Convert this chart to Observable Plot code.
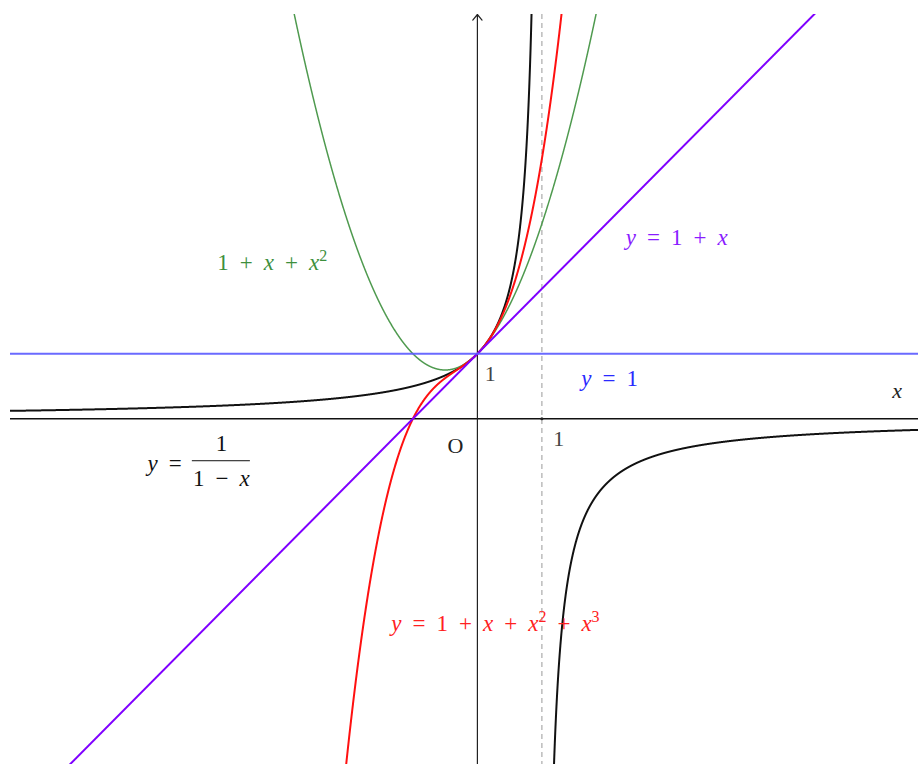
<!DOCTYPE html>
<html><head><meta charset="utf-8">
<script src="https://cdn.jsdelivr.net/npm/d3@7"></script>
<script src="https://cdn.jsdelivr.net/npm/@observablehq/plot@0.6"></script>
<style>body{margin:0;background:#fff}</style>
</head><body><div id="chart"></div>
<script>
// Visible window of the coordinate plane
const xDomain = [-7.24, 6.84];
const yDomain = [-5.32, 6.22];

// The plotted functions (the chart shows these exact curves)
const curveNames = ["1/(1-x) left", "1/(1-x) right", "1+x+x^2", "1+x+x^2+x^3", "1+x", "1"];
const curveColors = ["#111111", "#111111", "#4f9a4f", "#ff1010", "#7f00ff", "#5a5aff"];
const curveWidths = [2, 2, 1.5, 2, 2, 1.8];
const curveFns = [
  x => 1 / (1 - x),
  x => 1 / (1 - x),
  x => 1 + x + x * x,
  x => 1 + x + x * x + x * x * x,
  x => 1 + x,
  x => 1
];
const curveXRanges = [[-7.3, 0.999], [1.001, 7], [-7.3, 7], [-7.3, 7], [-7.3, 7], [-7.3, 7]];

// Formula labels
const labelTexts = ["1 + x + x^2", "y = 1 + x", "y = 1", "y = 1 + x + x^2 + x^3", "y =", "1", "1 − x"];
const labelX = [-3.18, 3.09, 2.05, 0.28, -4.85, -3.97, -3.97];
const labelY = [2.40, 2.78, 0.615, -3.15, -0.69, -0.39, -0.92];
const labelColors = ["#3d8f3d", "#8a1cff", "#2a2aff", "#ff2020", "#111", "#111", "#111"];

// Axis annotations
const axisTexts = ["1", "1", "O", "x"];
const axisX = [0.2, 1.26, -0.34, 6.51];
const axisY = [0.69, -0.31, -0.42, 0.43];
const axisColors = ["#444", "#444", "#222", "#222"];

const fractionBar = [{x1: -4.42, x2: -3.52, y: -0.646}];
const dashedX = [1];
const unitTick = [{x: 1, y: 0}];

const curves = [];
curveNames.forEach((name, i) => {
  const [a, b] = curveXRanges[i];
  const n = 6000;
  for (let k = 0; k <= n; k++) {
    const x = a + (b - a) * k / n;
    const y = curveFns[i](x);
    if (Math.abs(y) < 60) curves.push({name, x, y});
  }
});

const labels = labelTexts.map((t, i) => ({t, x: labelX[i], y: labelY[i], c: labelColors[i]}));
const axisLabels = axisTexts.map((t, i) => ({t, x: axisX[i], y: axisY[i], c: axisColors[i]}));

const plot = Plot.plot({
  width: 918, height: 764,
  marginLeft: 10, marginTop: 14, marginRight: 0, marginBottom: 0,
  x: {domain: xDomain, axis: null},
  y: {domain: yDomain, axis: null},
  style: {background: "white", fontFamily: "'Liberation Serif', serif"},
  marks: [
    Plot.ruleX(dashedX, {stroke: "#aaaaaa", strokeWidth: 1.2, strokeDasharray: "5,4"}),
    Plot.ruleY([0], {stroke: "#111", strokeWidth: 1.3}),
    Plot.arrow([{x1: 0, y1: yDomain[0], x2: 0, y2: yDomain[1]}], {x1: "x1", y1: "y1", x2: "x2", y2: "y2", stroke: "#222", strokeWidth: 1.2, headLength: 9, headAngle: 80}),
    Plot.dot(unitTick, {x: "x", y: "y", r: 1.6, fill: "#222"}),
    ...curveNames.map((name, i) => Plot.line(curves.filter(d => d.name === name), {
      x: "x", y: "y", stroke: curveColors[i], strokeWidth: curveWidths[i], clip: true,
      strokeOpacity: name === "1" ? 0.9 : 1
    })),
    Plot.ruleY(fractionBar, {x1: "x1", x2: "x2", y: "y", stroke: "#111", strokeWidth: 1}),
    Plot.text(labels, {x: "x", y: "y", text: "t", fill: "c", fontSize: 23, textAnchor: "middle", className: "mathlabel"}),
    Plot.text(axisLabels, {x: "x", y: "y", text: "t", fill: "c", fontSize: 22, textAnchor: "middle", className: "axislabel"})
  ]
});

// Typeset the formulas: italic variables, raised exponents, math spacing
function typeset(sel, supSize, supShift, gap) {
  sel.each(function() {
    const s = this.textContent;
    const el = d3.select(this);
    el.text(null);
    let i = 0, raised = false, dx = 0;
    while (i < s.length) {
      const ch = s[i];
      if (ch === " ") { dx += gap; i++; continue; }
      let ts;
      if (ch === "^") {
        ts = el.append("tspan").attr("dy", -supShift).attr("font-size", supSize).text(s[i + 1]);
        raised = true; i += 2;
      } else {
        ts = el.append("tspan").text(ch);
        if (raised) { ts.attr("dy", supShift); raised = false; }
        if (ch === "x" || ch === "y") ts.attr("font-style", "italic");
        i++;
      }
      if (dx) { ts.attr("dx", dx); dx = 0; }
    }
  });
}
typeset(d3.select(plot).selectAll("g.mathlabel text"), 16, 9, 11);
typeset(d3.select(plot).selectAll("g.axislabel text"), 14, 8, 5);

document.getElementById("chart").append(plot);
</script>
</body></html>
